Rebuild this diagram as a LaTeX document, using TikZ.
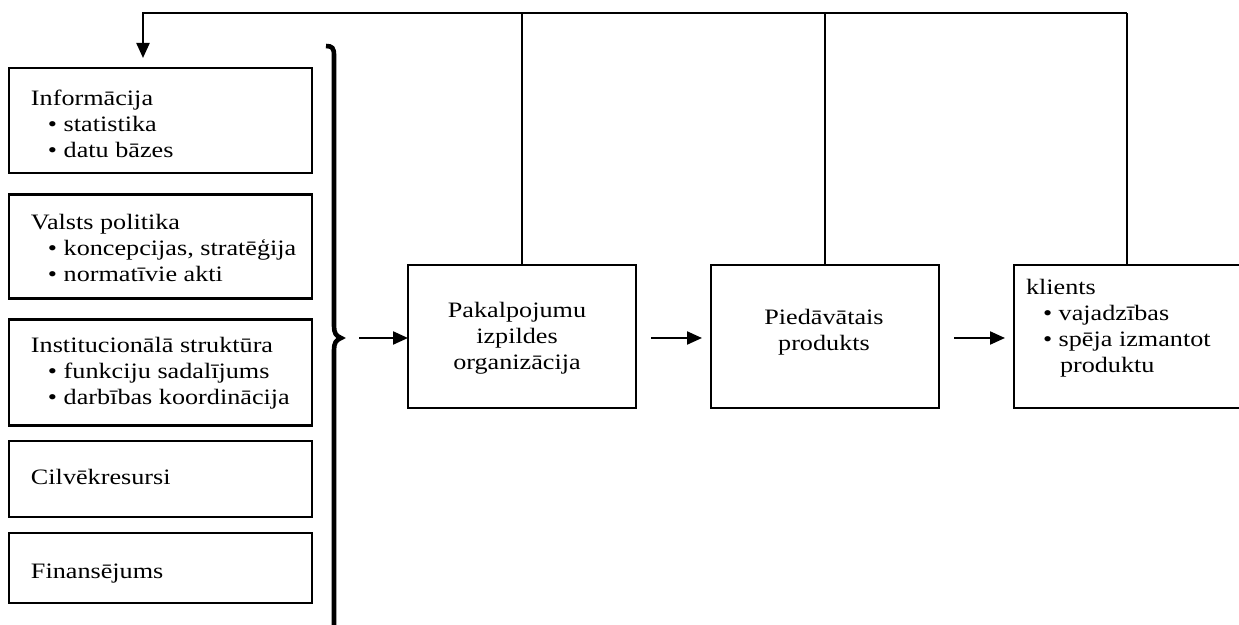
\documentclass[tikz,border=0pt]{standalone}
\usepackage{fontspec}
\setmainfont{Liberation Serif}[FakeStretch=1.19]
\usetikzlibrary{arrows.meta}
\begin{document}
\begin{tikzpicture}[x=0.5pt,y=-0.5pt,
  box/.style={draw, line width=1.3pt, inner sep=0pt, outer sep=0pt},
  txt/.style={inner sep=0pt, outer sep=0pt, font=\fontsize{11}{12.9}\selectfont},
  conn/.style={line width=1.1pt},
  arr/.style={line width=1.1pt, -{Triangle[length=7.5pt,width=6.5pt]}},
  bracestyle/.style={line width=2.3pt, line cap=butt}]
\clip (0,0) rectangle (1239,625);
% left boxes
\node[box, minimum width=151.5pt, minimum height=52.5pt] (b1) at (160.5,120.5) {};
\node[box, minimum width=151.5pt, minimum height=52pt] (b2) at (160.5,246.5) {};
\node[box, minimum width=151.5pt, minimum height=53pt] (b3) at (160.5,372.5) {};
\node[box, minimum width=151.5pt, minimum height=38pt] (b4) at (160.5,479) {};
\node[box, minimum width=151.5pt, minimum height=35pt] (b5) at (160.5,568) {};
\node[txt, anchor=base west] (t1) at (31,106) {\vtop{\hbox{Informācija}\hbox{\kern8.5pt• statistika}\hbox{\kern8.5pt• datu bāzes}}};
\node[txt, anchor=base west] (t2) at (31,230) {\vtop{\hbox{Valsts politika}\hbox{\kern8.5pt• koncepcijas, stratēģija}\hbox{\kern8.5pt• normatīvie akti}}};
\node[txt, anchor=base west] (t3) at (31,353) {\vtop{\hbox{Institucionālā struktūra}\hbox{\kern8.5pt• funkciju sadalījums}\hbox{\kern8.5pt• darbības koordinācija}}};
\node[txt, anchor=base west] (t4) at (31,485) {Cilvēkresursi};
\node[txt, anchor=base west] (t5) at (31,579) {Finansējums};
% main boxes
\node[box, minimum width=114pt, minimum height=71.5pt] (p) at (522,336.5) {};
\node[box, minimum width=114pt, minimum height=71.5pt] (pd) at (825,336.5) {};
\node[box, minimum width=118pt, minimum height=71.5pt] (kl) at (1132,336.5) {};
\node[txt, anchor=base] (tp) at (517,318) {\vtop{\halign{\hfil#\hfil\cr Pakalpojumu\cr izpildes\cr organizācija\cr}}};
\node[txt, anchor=base] (tpd) at (824,325) {\vtop{\halign{\hfil#\hfil\cr Piedāvātais\cr produkts\cr}}};
\node[txt, anchor=base west] (tkl) at (1026,295) {\vtop{\hbox{klients}\hbox{\kern8.5pt• vajadzības}\hbox{\kern8.5pt• spēja izmantot}\hbox{\kern17pt produktu}}};
% brace
\draw[bracestyle] (326,46) .. controls (332,46) and (334,48) .. (334,55) -- (334,326) .. controls (334,333) and (336,336) .. (341,338) .. controls (336,340) and (334,343) .. (334,350) -- (334,640);
% feedback loop
\coordinate (tr) at (1127,13);
\coordinate (tl) at (143,13);
\coordinate (fe) at (143,58);
\draw[conn] (kl.north -| tr) -- (tr);
\draw[conn] (p.north) -- (p.north |- tr);
\draw[conn] (pd.north) -- (pd.north |- tr);
\draw[arr] (tr) -- (tl) -- (fe);
% horizontal arrows
\coordinate (a0) at (359,338);
\draw[arr] (a0) -- (a0 -| p.west);
\draw[arr, shorten <=7.5pt, shorten >=4.5pt] (p.east |- a0) -- (pd.west |- a0);
\draw[arr, shorten <=7.5pt, shorten >=4.5pt] (pd.east |- a0) -- (kl.west |- a0);
\end{tikzpicture}
\end{document}
